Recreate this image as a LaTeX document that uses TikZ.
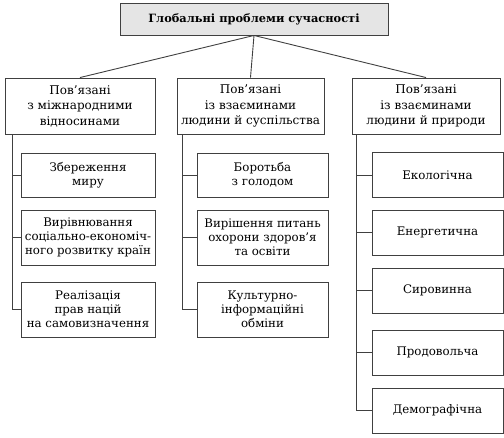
\documentclass[tikz,border=0pt]{standalone}
\usepackage{fontspec}
\setmainfont{DejaVu Serif}
\begin{document}
\begin{tikzpicture}[x=1pt,y=-1pt,
  box/.style={draw=black!75, line width=0.9pt, align=center, inner sep=0pt,
    font=\fontsize{11.8}{14}\selectfont, text=black},
  ln/.style={draw=black!75, line width=0.9pt},
  lone/.style={box, minimum height=56, font=\fontsize{12}{15.5}\selectfont},
  ltwo/.style={box, minimum width=134},
  mtwo/.style={box, minimum width=131},
  rtwo/.style={box, minimum width=131, minimum height=45}]
\useasboundingbox (0,0) rectangle (504,437);
\node[box, fill=black!10, minimum width=268, minimum height=32, font=\bfseries\fontsize{11.4}{13}\selectfont] (top) at (254,19) {Глобальні проблеми сучасності};

\node[lone, minimum width=150] (l1) at (80,106) {Пов’язані\\з міжнародними\\відносинами};
\node[lone, minimum width=147] (m1) at (250.5,106) {Пов’язані\\із взаєминами\\людини й суспільства};
\node[lone, minimum width=148] (r1) at (426,106) {Пов’язані\\із взаєминами\\людини й природи};

\node[ltwo, minimum height=44] (la) at (88,175) {Збереження\\миру};
\node[ltwo, minimum height=55] (lb) at (88,237.5) {Вирівнювання\\соціально-економіч-\\ного розвитку країн};
\node[ltwo, minimum height=55] (lc) at (88,309.5) {Реалізація\\прав націй\\на самовизначення};

\node[mtwo, minimum height=44] (ma) at (262.5,175) {Боротьба\\з голодом};
\node[mtwo, minimum height=55] (mb) at (262.5,237.5) {Вирішення питань\\охорони здоров’я\\та освіти};
\node[mtwo, minimum height=55] (mc) at (262.5,309.5) {Культурно-\\інформаційні\\обміни};

\node[rtwo] (ra) at (437.5,175) {Екологічна};
\node[rtwo] (rb) at (437.5,232.5) {Енергетична};
\node[rtwo] (rc) at (437.5,290.5) {Сировинна};
\node[rtwo] (rd) at (437.5,352.5) {Продовольча};
\node[rtwo] (re) at (437.5,410.5) {Демографічна};

\draw[ln] (top.south) -- (l1.north);
\draw[ln] (top.south) -- (m1.north);
\draw[ln] (top.south) -- (r1.north);

\coordinate (lt) at ([xshift=8]l1.south west);
\draw[ln] (lt) |- (lc.west);
\draw[ln] (la.west) -- (la.west -| lt);
\draw[ln] (lb.west) -- (lb.west -| lt);

\coordinate (mt) at ([xshift=6]m1.south west);
\draw[ln] (mt) |- (mc.west);
\draw[ln] (ma.west) -- (ma.west -| mt);
\draw[ln] (mb.west) -- (mb.west -| mt);

\coordinate (rt) at ([xshift=5]r1.south west);
\draw[ln] (rt) |- (re.west);
\draw[ln] (ra.west) -- (ra.west -| rt);
\draw[ln] (rb.west) -- (rb.west -| rt);
\draw[ln] (rc.west) -- (rc.west -| rt);
\draw[ln] (rd.west) -- (rd.west -| rt);
\end{tikzpicture}
\end{document}
